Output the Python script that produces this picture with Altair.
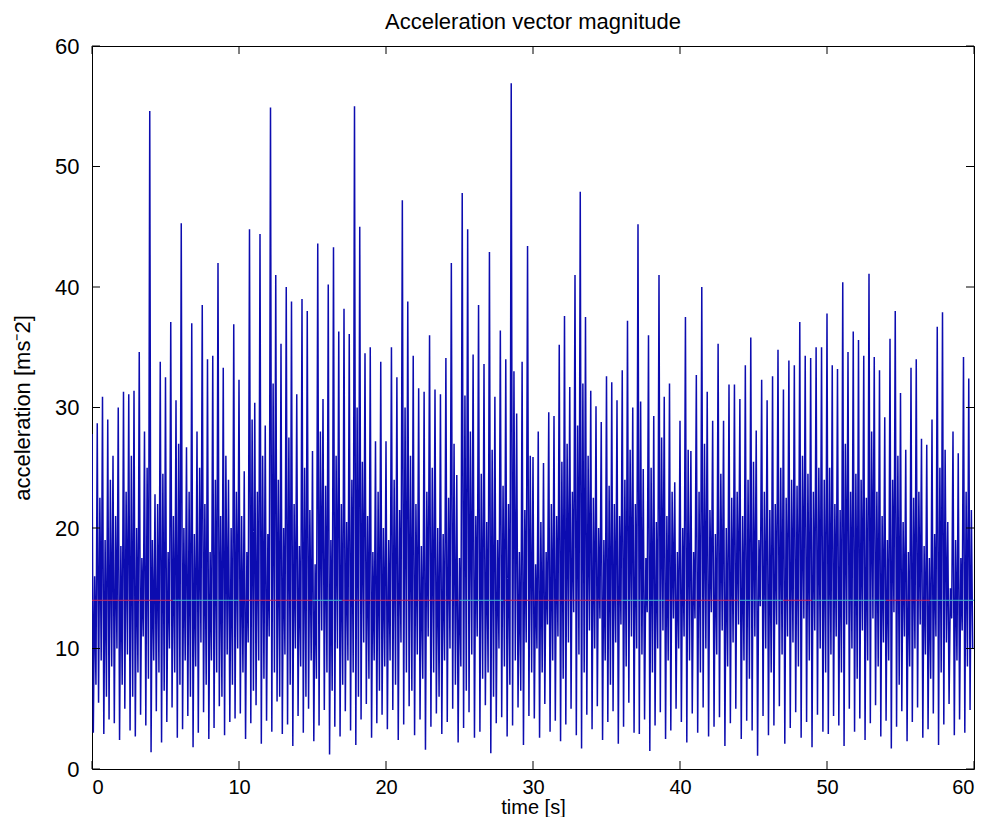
import altair as alt
import pandas as pd

# ---- data (per 10 s block) ----
# spike tops (H), trough after spike (L), mid peak (M), second trough (K)
H0 = [27.8, 28.7, 30.9, 29.0, 26.0, 30.0, 31.3, 31.1, 31.4, 34.6, 28.0, 54.6, 22.8, 33.8, 32.5, 37.1, 30.6, 45.3, 26.7, 37.0, 28.0, 38.5, 34.0, 34.3, 42.0, 33.3, 24.0, 36.9]
L0 = [3.0, 5.5, 2.9, 4.1, 3.8, 2.4, 5.0, 3.2, 2.7, 4.5, 3.6, 1.4, 4.8, 2.2, 3.9, 5.1, 2.6, 3.3, 4.4, 1.8, 3.0, 4.7, 2.5, 3.4, 5.2, 2.8, 3.9, 4.2]
M0 = [16.0, 22.5, 19.0, 24.0, 21.0, 18.5, 23.0, 26.0, 20.0, 17.5, 25.0, 19.0, 22.0, 24.5, 18.0, 21.0, 27.0, 20.0, 23.0, 19.5, 25.0, 22.0, 18.0, 24.0, 21.0, 26.0, 20.0, 23.0]
K0 = [7.0, 9.0, 6.0, 8.5, 10.0, 7.0, 9.5, 6.0, 8.0, 11.0, 7.5, 9.0, 8.0, 6.5, 10.0, 8.0, 7.0, 9.0, 6.0, 8.5, 10.5, 7.0, 9.0, 8.0, 6.0, 9.5, 7.0, 10.0]

H1 = [32.3, 24.7, 44.8, 30.4, 44.4, 28.5, 54.9, 41.0, 35.3, 40.0, 38.8, 31.1, 39.0, 38.0, 26.4, 43.6, 30.7, 40.2, 43.3, 36.3, 38.2, 36.1, 55.0, 45.0, 34.5, 35.0, 27.2, 33.8]
L1 = [4.6, 2.5, 3.8, 5.3, 2.1, 4.0, 3.1, 5.6, 2.9, 3.7, 1.9, 4.4, 3.0, 5.0, 2.3, 3.6, 4.9, 1.2, 3.5, 2.7, 4.8, 3.2, 2.0, 4.1, 5.4, 2.6, 3.8, 4.5]
M1 = [21.0, 18.0, 29.0, 23.0, 26.0, 19.5, 32.0, 24.0, 20.0, 27.5, 22.0, 18.5, 25.0, 21.5, 17.0, 28.0, 23.5, 19.0, 26.0, 22.0, 20.5, 24.0, 30.0, 25.5, 21.0, 18.0, 23.0, 20.0]
K1 = [8.0, 10.5, 6.5, 9.0, 7.5, 11.0, 8.0, 6.0, 9.5, 7.0, 10.0, 8.5, 6.0, 9.0, 7.5, 11.5, 8.0, 6.5, 10.0, 7.0, 9.0, 8.0, 6.0, 10.5, 7.5, 9.0, 6.5, 8.5]

H2 = [27.2, 35.0, 32.5, 47.2, 38.8, 34.3, 31.6, 31.3, 36.0, 31.5, 31.1, 34.1, 42.0, 24.4, 47.8, 44.8, 34.4, 38.5, 33.6, 42.9, 30.9, 36.4, 34.0, 56.9, 29.5, 33.8, 43.4]
L2 = [3.3, 4.9, 2.4, 3.7, 5.2, 2.8, 4.1, 1.6, 3.5, 4.6, 2.9, 3.9, 5.0, 2.2, 3.4, 4.7, 2.6, 3.1, 5.3, 1.3, 3.8, 4.3, 2.7, 3.6, 5.1, 2.0, 4.4]
M2 = [19.0, 24.0, 21.5, 30.0, 26.0, 22.0, 18.5, 23.0, 25.0, 20.0, 19.5, 22.5, 27.0, 17.5, 31.0, 28.0, 21.0, 24.5, 20.5, 26.5, 19.0, 23.5, 22.0, 33.0, 18.0, 21.5, 26.0]
K2 = [9.0, 7.0, 10.5, 8.0, 6.5, 9.5, 7.5, 11.0, 8.0, 6.0, 9.0, 10.0, 7.0, 8.5, 6.5, 9.5, 11.0, 7.5, 8.0, 6.0, 10.0, 8.5, 7.0, 9.0, 6.5, 10.5, 8.0]

H3 = [25.9, 28.0, 25.4, 29.6, 29.3, 35.2, 37.6, 31.7, 41.0, 47.9, 37.5, 31.4, 30.1, 28.8, 32.6, 32.1, 30.6, 33.1, 37.2, 30.0, 45.2, 24.9, 36.0, 29.3, 41.0, 30.9, 32.0, 23.8]
L3 = [4.2, 2.6, 5.4, 3.1, 4.0, 2.3, 3.7, 5.0, 2.8, 1.7, 4.5, 3.3, 5.2, 2.4, 3.9, 4.8, 2.1, 3.5, 5.5, 3.0, 2.9, 4.1, 1.5, 3.6, 4.7, 2.5, 3.2, 5.0]
M3 = [17.0, 20.5, 18.0, 22.0, 21.0, 25.5, 27.0, 23.0, 28.5, 32.0, 26.0, 22.5, 20.0, 19.0, 23.5, 22.0, 21.0, 24.0, 26.5, 22.0, 30.5, 17.5, 25.0, 20.5, 27.5, 21.0, 23.0, 18.0]
K3 = [10.0, 8.0, 12.0, 9.0, 11.0, 7.5, 10.5, 13.0, 9.5, 8.0, 11.5, 10.0, 12.5, 9.0, 7.0, 10.5, 12.0, 8.5, 11.0, 10.0, 9.5, 13.0, 8.0, 10.0, 11.5, 9.0, 12.5, 10.0]

H4 = [28.9, 37.5, 26.4, 32.7, 40.0, 31.3, 28.9, 35.3, 28.9, 31.9, 31.9, 30.7, 33.5, 35.8, 28.1, 32.3, 30.6, 32.6, 34.8, 31.5, 33.9, 33.5, 37.1, 34.3, 34.1, 35.0, 35.0]
L4 = [3.9, 2.2, 4.6, 3.0, 5.1, 2.7, 3.5, 4.3, 1.9, 3.8, 5.0, 2.5, 4.0, 3.2, 1.1, 4.4, 2.8, 3.6, 5.2, 2.1, 3.4, 4.7, 2.6, 3.9, 1.8, 4.5, 3.1]
M4 = [20.0, 26.5, 18.0, 23.0, 27.0, 21.5, 19.5, 24.5, 20.0, 22.5, 23.0, 21.0, 24.0, 25.5, 19.0, 23.0, 21.5, 22.0, 25.0, 22.5, 24.0, 23.5, 26.0, 24.5, 23.0, 25.0, 24.0]
K4 = [11.0, 9.0, 12.5, 8.0, 10.0, 13.0, 9.5, 11.5, 8.5, 10.5, 12.0, 9.0, 7.5, 11.0, 13.5, 10.0, 8.0, 12.0, 9.5, 11.0, 10.5, 8.5, 12.5, 9.0, 11.5, 10.0, 8.0]

H5 = [37.8, 33.5, 33.2, 40.4, 34.6, 36.3, 35.6, 34.3, 41.1, 34.2, 33.1, 29.2, 35.7, 38.0, 31.2, 26.5, 33.3, 34.0, 27.4, 26.9, 29.0, 36.7, 37.9, 20.5, 28.0, 26.2, 34.2, 32.4]
L5 = [2.9, 4.4, 3.6, 1.9, 5.0, 3.1, 4.2, 2.4, 3.8, 5.3, 2.7, 4.0, 1.7, 3.5, 4.8, 2.3, 3.9, 5.1, 2.6, 3.3, 4.6, 2.0, 3.7, 5.4, 2.8, 4.1, 3.0, 4.9]
M5 = [25.0, 22.0, 21.5, 27.0, 23.0, 24.5, 24.0, 22.5, 28.0, 23.0, 21.0, 19.0, 24.0, 26.0, 20.5, 18.0, 22.5, 23.0, 18.5, 17.5, 19.5, 25.0, 26.5, 15.0, 19.0, 17.5, 23.0, 21.5]
K5 = [9.5, 11.0, 8.0, 12.0, 10.0, 7.5, 11.5, 9.0, 12.5, 8.5, 10.5, 9.0, 13.0, 7.0, 11.0, 8.5, 10.0, 12.0, 9.5, 7.5, 11.0, 8.0, 10.5, 12.5, 9.0, 11.5, 8.5, 10.0]

BLOCK_START = [0, 10, 20, 30, 40, 50]
BLOCKS = [(H0, L0, M0, K0), (H1, L1, M1, K1), (H2, L2, M2, K2),
          (H3, L3, M3, K3), (H4, L4, M4, K4), (H5, L5, M5, K5)]

MEAN_LEVEL = 14.0
# coloured segments of the horizontal mean line: (start, end, colour)
MEAN_SEGMENTS = [(0, 5.5, "red"), (5.5, 10, "cyan"), (10, 15, "red"), (15, 17, "cyan"),
                 (17, 25, "red"), (25, 28, "cyan"), (28, 36, "red"), (36, 39, "cyan"),
                 (39, 44, "red"), (44, 47, "cyan"), (47, 49, "red"), (49, 54, "cyan"),
                 (54, 57, "red"), (57, 60, "cyan")]

XTICKS = [0, 10, 20, 30, 40, 50, 60]
YTICKS = [0, 10, 20, 30, 40, 50, 60]

# ---- build table ----
rows = []
for start, (H, L, M, K) in zip(BLOCK_START, BLOCKS):
    n = len(H)
    step = 10.0 / n
    for i, (h, l, m, k) in enumerate(zip(H, L, M, K)):
        t0 = start + i * step
        rows.append((t0, h))
        rows.append((t0 + step * 0.25, l))
        rows.append((t0 + step * 0.5, m))
        rows.append((t0 + step * 0.75, k))
df = pd.DataFrame(rows, columns=["time", "acc"])

COLMAP = {"red": "#c8285a", "cyan": "#3cb4c8"}
seg_df = pd.DataFrame([{"time": a, "t2": b, "acc": MEAN_LEVEL, "c": COLMAP[c]} for a, b, c in MEAN_SEGMENTS])
xt_df = pd.DataFrame({"time": XTICKS})
yt_df = pd.DataFrame({"acc": YTICKS})

FONT = "Liberation Sans"
W, H = 882, 723
xs = alt.Scale(domain=[0, 60], nice=False, zero=False)
ys = alt.Scale(domain=[0, 60], nice=False, zero=False)

XAX = alt.Axis(values=XTICKS, title="time [s]", grid=False, ticks=False, domain=False,
               labelFont=FONT, labelFontSize=20, labelColor="black", labelPadding=8,
               titleFont=FONT, titleFontSize=20, titleFontWeight="normal", titleColor="black",
               titlePadding=0)
YAX = alt.Axis(values=YTICKS, title="acceleration [ms⁻2]", grid=False, ticks=False, domain=False,
               labelFont=FONT, labelFontSize=22, labelColor="black", labelPadding=13,
               titleFont=FONT, titleFontSize=22, titleFontWeight="normal", titleColor="black",
               titlePadding=20)

def X(field):
    return alt.X(field, scale=xs, axis=XAX)

def Y(field):
    return alt.Y(field, scale=ys, axis=YAX)

line = alt.Chart(df).mark_line(color="#0c0cb0", strokeWidth=1.5, clip=True).encode(
    x=X("time:Q"), y=Y("acc:Q"))

mean_line = alt.Chart(seg_df).mark_rule(strokeWidth=1).encode(
    x=X("time:Q"), x2="t2:Q", y=Y("acc:Q"), color=alt.Color("c:N", scale=None))

TL = 8
xt_bottom = alt.Chart(xt_df).mark_rule(color="black", strokeWidth=1).encode(
    x=X("time:Q"), y=alt.value(H), y2=alt.value(H - TL))
xt_top = alt.Chart(xt_df).mark_rule(color="black", strokeWidth=1).encode(
    x=X("time:Q"), y=alt.value(0), y2=alt.value(TL))
yt_left = alt.Chart(yt_df).mark_rule(color="black", strokeWidth=1).encode(
    y=Y("acc:Q"), x=alt.value(0), x2=alt.value(TL))
yt_right = alt.Chart(yt_df).mark_rule(color="black", strokeWidth=1).encode(
    y=Y("acc:Q"), x=alt.value(W), x2=alt.value(W - TL))

chart = alt.layer(line, mean_line, xt_bottom, xt_top, yt_left, yt_right).properties(
    width=W, height=H,
    title=alt.TitleParams("Acceleration vector magnitude", font=FONT, fontSize=22,
                          fontWeight="normal", color="black", offset=1, anchor="middle"),
    autosize=alt.AutoSizeParams(type="none"),
    padding={"left": 84, "top": 38, "right": 8, "bottom": 48},
    background="white",
).configure_view(stroke="black", strokeWidth=1)

chart.save("out.html", embed_options={"renderer": "svg", "actions": False})
